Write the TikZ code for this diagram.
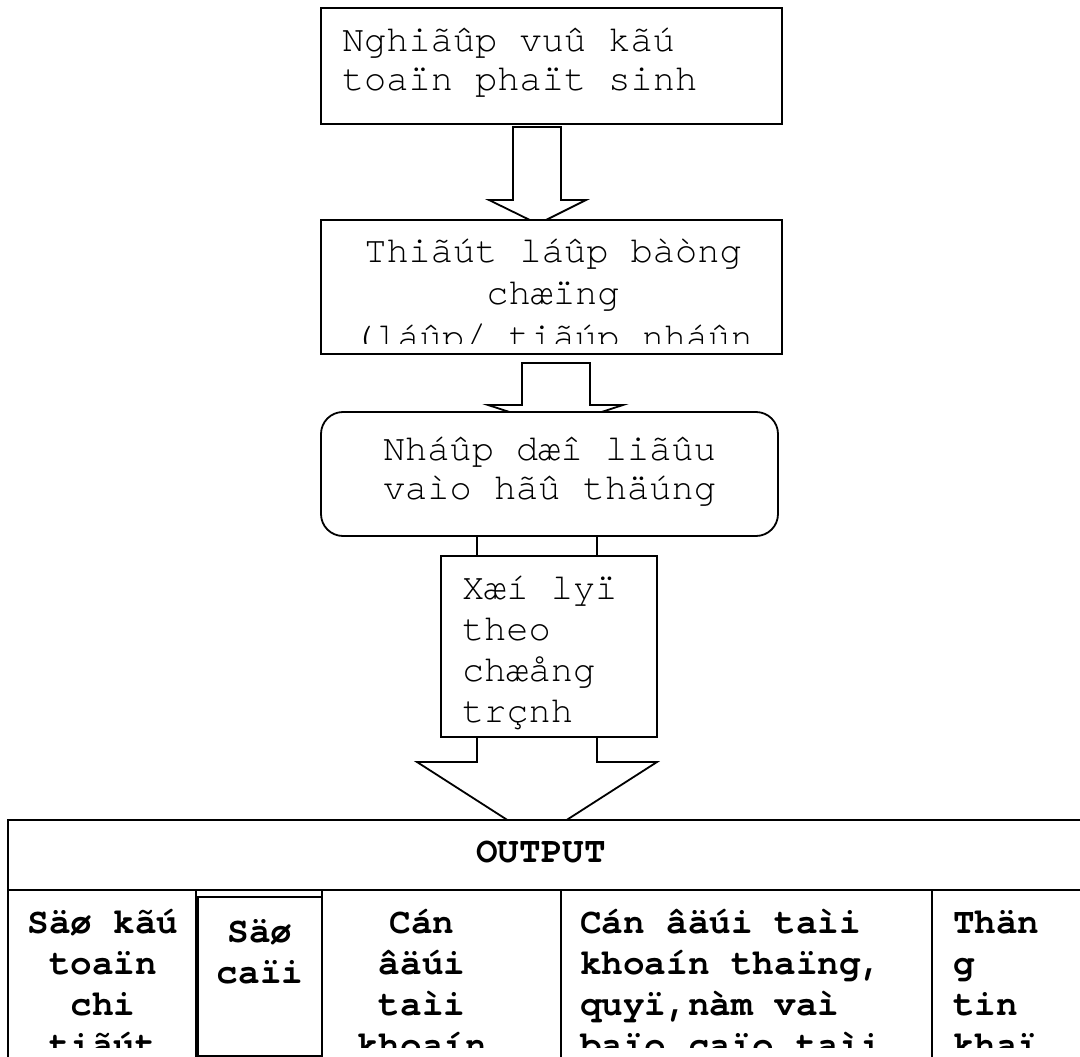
\documentclass[tikz,border=0pt]{standalone}
\usepackage{fontspec}
\newfontfamily\cour{TeX Gyre Cursor}
\newcommand\plainfont{\cour\fontsize{37}{42}\selectfont}
\newcommand\cellfont{\cour\bfseries\fontsize{36}{42}\selectfont}
\tikzset{
  frame/.style={draw, fill=white, line width=1.8pt, anchor=north west,
    inner sep=0pt, outer sep=0pt},
  blockarrow/.style={draw, fill=white, line width=1.8pt, line join=miter},
  rule/.style={line width=1.8pt},
  lbl/.style={font=\plainfont, inner sep=0pt, outer sep=0pt},
  cell/.style={font=\cellfont, inner sep=0pt, outer sep=0pt},
}
\begin{document}
\begin{tikzpicture}[x=1pt,y=-1pt]
\useasboundingbox (0,0) rectangle (1080,1057);
\clip (0,0) rectangle (1080,1057);

% block arrows, drawn first so the boxes cover their hidden parts
\draw[blockarrow] (477,530) -- (477,600) -- (450,600) -- (537,650)
  -- (624,600) -- (597,600) -- (597,530) -- cycle;
\draw[blockarrow] (477,720) -- (477,762) -- (417,762) -- (537,839)
  -- (657,762) -- (597,762) -- (597,720) -- cycle;
\draw[blockarrow] (522,363) -- (522,405) -- (488,405) -- (555.5,427)
  -- (623,405) -- (590,405) -- (590,363) -- cycle;
\draw[blockarrow] (513,127) -- (513,200) -- (489,200) -- (538,224)
  -- (586,200) -- (561,200) -- (561,127) -- cycle;

% process boxes
\node[frame, minimum width=461pt, minimum height=116pt] (b1) at (321,8) {};
\node[frame, minimum width=461pt, minimum height=134pt] (b2) at (321,220) {};
\node[frame, rounded corners=22pt, minimum width=457pt, minimum height=124pt] (b3) at (321,412) {};
\node[frame, minimum width=216pt, minimum height=181pt] (b4) at (441,556) {};

% output table
\node[frame, minimum width=1100pt, minimum height=260pt] (tbl) at (8,820) {};
\draw[rule] (8,890) -- (1080,890);
\foreach \cx in {196,322,561,932}
  \draw[rule] (\cx,890) -- (\cx,1060);
\draw[rule] (198,897) rectangle (322,1056);

% box texts
\foreach \txt [count=\i] in {Nghiãûp vuû kãú, toaïn phaït sinh}
  \node[lbl, anchor=base west] (b1t\i) at (342, 52+39*\i-39) {\txt};
\begin{scope}
  \clip (321,220) rectangle (782,343);
  \node[lbl, anchor=base] (b2t1) at (553,262) {Thiãút láûp bàòng};
  \node[lbl, anchor=base] (b2t2) at (553,304) {chæïng};
  \node[lbl, anchor=base] (b2t3) at (553,348) {(láûp/ tiãúp nháûn};
\end{scope}
\foreach \txt [count=\i] in {Nháûp dæî liãûu, vaìo hãû thäúng}
  \node[lbl, anchor=base] (b3t\i) at (549.5, 460+39*\i-39) {\txt};
\foreach \txt [count=\i] in {Xæí lyï, theo, chæång, trçnh}
  \node[lbl, anchor=base west] (b4t\i) at (462, 599+41*\i-41) {\txt};

% table texts
\node[cell, anchor=base] (hdr) at (541,862) {OUTPUT};
\begin{scope}
  \clip (8,897) rectangle (1080,1047);
  \foreach \txt [count=\i] in {Säø kãú, toaïn, chi, tiãút}
    \node[cell, anchor=base] (c1t\i) at (103, 933+41*\i-41) {\txt};
  \foreach \txt [count=\i] in {Säø, caïi}
    \node[cell, anchor=base] (c2t\i) at (260, 942+41*\i-41) {\txt};
  \foreach \txt [count=\i] in {Cán, âäúi, taìi, khoaín}
    \node[cell, anchor=base] (c3t\i) at (422, 933+41*\i-41) {\txt};
  \foreach \txt [count=\i] in {Cán âäúi taìi, {khoaín thaïng,}, {quyï,nàm vaì}, baïo caïo taìi}
    \node[cell, anchor=base west] (c4t\i) at (580, 933+41*\i-41) {\txt};
  \foreach \txt [count=\i] in {Thän, g, tin, khaï}
    \node[cell, anchor=base west] (c5t\i) at (953, 933+41*\i-41) {\txt};
\end{scope}
\end{tikzpicture}
\end{document}
